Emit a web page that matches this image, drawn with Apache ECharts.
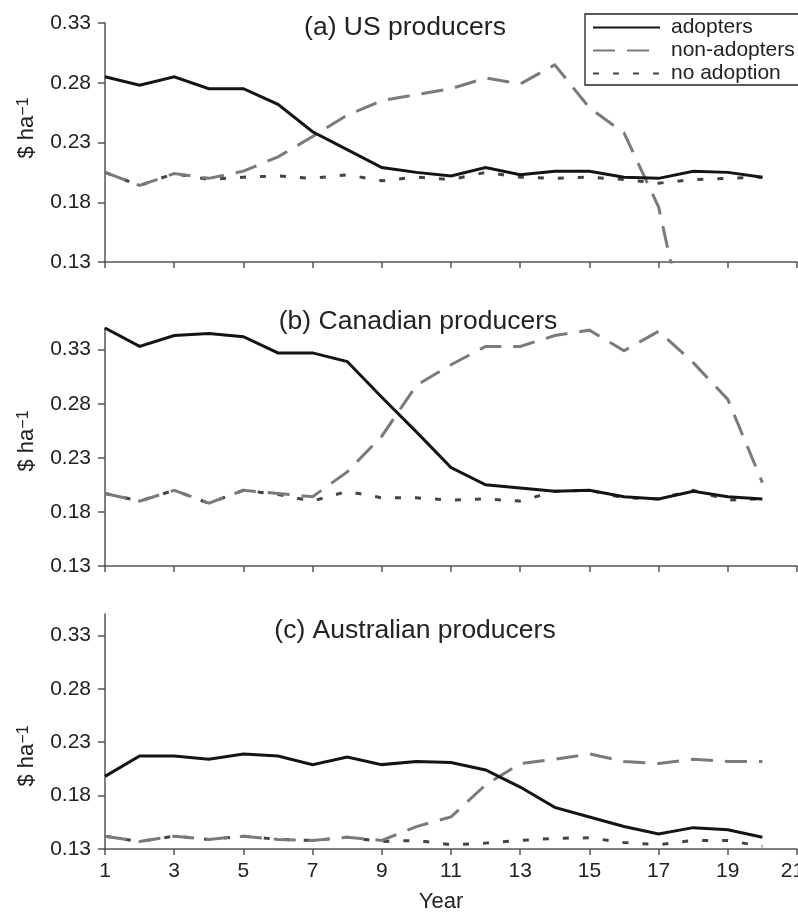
<!DOCTYPE html>
<html><head><meta charset="utf-8">
<script src="https://cdn.jsdelivr.net/npm/echarts@6/dist/echarts.min.js"></script>
<style>html,body{margin:0;padding:0;background:#fff}#c{width:798px;height:914px}</style>
</head><body><div id="c"></div>
<script>
const years = [1,2,3,4,5,6,7,8,9,10,11,12,13,14,15,16,17,18,19,20];
const xTickLabels = [1,3,5,7,9,11,13,15,17,19,21];
const yTickLabels = [0.13,0.18,0.23,0.28,0.33];
const seriesNames = ['adopters','non-adopters','no adoption'];
const panelTitles = ['(a) US producers','(b) Canadian producers','(c) Australian producers'];

const usAdopters    = [0.285,0.278,0.285,0.275,0.275,0.262,0.239,0.224,0.209,0.205,0.202,0.209,0.203,0.206,0.206,0.201,0.200,0.206,0.205,0.201];
const usNonAdopters = [0.205,0.194,0.204,0.200,0.206,0.218,0.235,0.253,0.265,0.270,0.275,0.284,0.279,0.295,0.259,0.238,0.176,0.045,null,null];
const usNoAdoption  = [0.205,0.194,0.204,0.199,0.201,0.202,0.200,0.203,0.198,0.201,0.199,0.205,0.201,0.200,0.201,0.199,0.196,0.199,0.200,0.201];

const caAdopters    = [0.350,0.333,0.343,0.345,0.342,0.327,0.327,0.319,0.286,0.254,0.221,0.205,0.202,0.199,0.200,0.194,0.192,0.199,0.194,0.192];
const caNonAdopters = [0.197,0.190,0.200,0.188,0.200,0.197,0.194,0.217,0.250,0.297,0.316,0.333,0.333,0.343,0.348,0.329,0.347,0.318,0.284,0.207];
const caNoAdoption  = [0.197,0.190,0.200,0.188,0.200,0.196,0.190,0.199,0.193,0.193,0.191,0.192,0.190,0.199,0.200,0.193,0.192,0.200,0.191,0.192];

const auAdopters    = [0.198,0.217,0.217,0.214,0.219,0.217,0.209,0.216,0.209,0.212,0.211,0.204,0.188,0.169,0.160,0.151,0.144,0.150,0.148,0.141];
const auNonAdopters = [0.142,0.137,0.142,0.139,0.142,0.139,0.138,0.141,0.138,0.151,0.160,0.190,0.210,0.214,0.219,0.212,0.210,0.214,0.212,0.212];
const auNoAdoption  = [0.142,0.137,0.142,0.139,0.142,0.139,0.138,0.141,0.137,0.138,0.134,0.1355,0.138,0.140,0.1405,0.136,0.134,0.138,0.138,0.1325];

const panels = [
  {data:[usAdopters,usNonAdopters,usNoAdoption], yMax:0.33, grid:{top:23,height:239}, title:[405,28], yname:[27,128]},
  {data:[caAdopters,caNonAdopters,caNoAdoption], yMax:0.35, grid:{top:328,height:238}, title:[418,322], yname:[27,441]},
  {data:[auAdopters,auNonAdopters,auNoAdoption], yMax:0.35, grid:{top:614,height:235}, title:[415,631], yname:[27,756]}
];

const FONT = 'Liberation Sans, Arial, Helvetica, sans-serif';
const axisColor = '#555';
const textColor = '#222';
const styles = [
  {color:'#141414', type:'solid', width:3, z:4},
  {color:'#7a7a7a', type:[22,12], width:3, z:3},
  {color:'#444444', type:[6,14], width:3, z:2}
];

const grids = [], xAxes = [], yAxes = [], series = [], graphics = [];
panels.forEach((p, i) => {
  grids.push({left:105, width:692, top:p.grid.top, height:p.grid.height, outerBoundsMode:'none', containLabel:false});
  xAxes.push({
    type:'value', gridIndex:i, min:1, max:21, interval:2,
    axisLine:{show:true, onZero:false, lineStyle:{color:axisColor, width:1.5}},
    axisTick:{show:true, length:6, customValues:xTickLabels, lineStyle:{color:axisColor, width:1.5}},
    axisLabel:{show:i===2, customValues:xTickLabels, margin:12, color:textColor, fontSize:21, fontFamily:FONT,
      formatter:v => v === 21 ? '{r|' + v + '}' : String(v),
      rich:{r:{fontSize:21, fontFamily:FONT, color:textColor, padding:[0,9,0,0]}}},
    splitLine:{show:false}
  });
  yAxes.push({
    type:'value', gridIndex:i, min:0.13, max:p.yMax,
    axisLine:{show:true, lineStyle:{color:axisColor, width:1.5}},
    axisTick:{show:true, length:7, customValues:yTickLabels, lineStyle:{color:axisColor, width:1.5}},
    axisLabel:{customValues:yTickLabels, margin:14, color:textColor, fontSize:21, fontFamily:FONT,
      formatter:v => v.toFixed(2)},
    splitLine:{show:false}
  });
  p.data.forEach((arr, k) => {
    series.push({
      name:seriesNames[k], type:'line', xAxisIndex:i, yAxisIndex:i,
      data:years.map((y, j) => [y, arr[j]]),
      symbol:'none', clip:true, z:styles[k].z,
      lineStyle:{color:styles[k].color, type:styles[k].type, width:styles[k].width, cap:'butt', join:'miter'},
      itemStyle:{color:styles[k].color},
      silent:true, animation:false
    });
  });
  graphics.push({type:'text', x:p.title[0], y:p.title[1],
    style:{text:panelTitles[i], fill:textColor, font:'26.5px '+FONT, align:'center', verticalAlign:'middle'}});
  graphics.push({type:'text', x:p.yname[0], y:p.yname[1], rotation:Math.PI/2,
    style:{text:'{m|$ ha}{s|−1}', fill:textColor, align:'center', verticalAlign:'middle',
      rich:{
        m:{fontSize:22, fontFamily:FONT, fill:textColor, lineHeight:22, padding:[5,0,0,0], verticalAlign:'bottom'},
        s:{fontSize:16, fontFamily:FONT, fill:textColor, lineHeight:16, verticalAlign:'top'}
      }}});
});
graphics.push({type:'text', x:441, y:902,
  style:{text:'Year', fill:textColor, font:'22px '+FONT, align:'center', verticalAlign:'middle'}});

const chart = echarts.init(document.getElementById('c'), null, {renderer:'canvas'});
chart.setOption({
  animation:false,
  backgroundColor:'#fff',
  textStyle:{fontFamily:FONT},
  grid:grids, xAxis:xAxes, yAxis:yAxes, series:series,
  legend:{
    data:seriesNames, orient:'vertical', left:585, top:14,
    itemWidth:67, itemHeight:14, itemGap:2,
    padding:[3,4,1,7], borderColor:'#222', borderWidth:1.3, backgroundColor:'#fff',
    itemStyle:{opacity:0}, lineStyle:{opacity:1},
    textStyle:{fontSize:21, lineHeight:20, color:textColor, fontFamily:FONT, padding:[0,0,0,6]},
    selectedMode:false
  },
  graphic:graphics
});
</script>
</body></html>
